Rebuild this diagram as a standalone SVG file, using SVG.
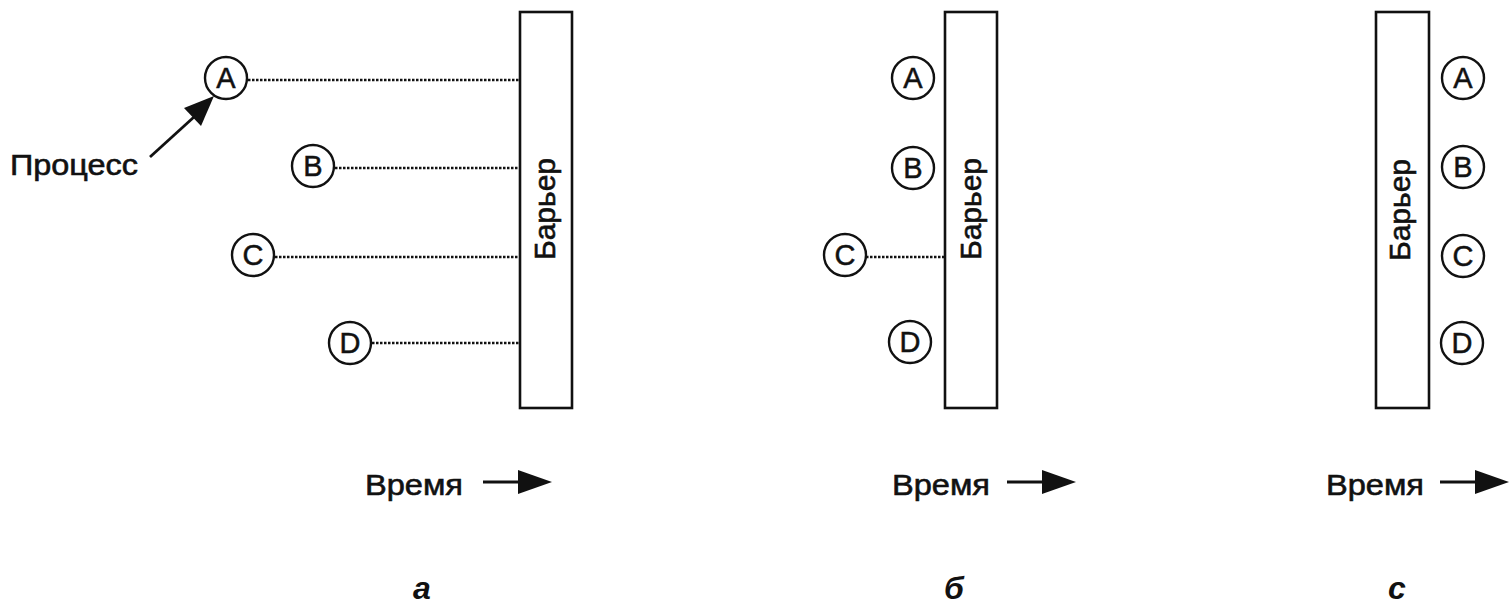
<svg xmlns="http://www.w3.org/2000/svg" width="1509" height="603" viewBox="0 0 1509 603">
<defs>
<style>
.bar{fill:#fff;stroke:#111;stroke-width:2.6}
.pc{fill:#fff;stroke:#111;stroke-width:2.4}
.lt{font-family:"Liberation Sans",Arial,sans-serif;font-size:29px;fill:#111;stroke:#111;stroke-width:0.5;text-anchor:middle}
.tx{font-family:"Liberation Sans",Arial,sans-serif;font-size:30px;fill:#111;stroke:#111;stroke-width:0.6}
.bt{font-family:"Liberation Sans",Arial,sans-serif;font-size:30px;fill:#111;stroke:#111;stroke-width:0.6;text-anchor:middle}
.cap{font-family:"Liberation Sans",Arial,sans-serif;font-size:32px;font-weight:bold;font-style:italic;fill:#111}
.dot{stroke:#111;stroke-width:2.6;stroke-dasharray:2.5 1.5;fill:none}
</style>
</defs>
<rect width="1509" height="603" fill="#fff"/>

<g id="connectors">
<line class="dot" x1="248" y1="80" x2="520" y2="80"/>
<line class="dot" x1="335" y1="168" x2="520" y2="168"/>
<line class="dot" x1="275" y1="257" x2="520" y2="257"/>
<line class="dot" x1="372" y1="343" x2="520" y2="343"/>
<line class="dot" x1="866" y1="257" x2="945" y2="257"/>
<line x1="150" y1="157" x2="194" y2="117" stroke="#111" stroke-width="2.8"/>
<polygon points="214,96 184,108 201,126" fill="#111"/>
<line x1="483" y1="482" x2="522" y2="482" stroke="#111" stroke-width="2.8"/>
<polygon points="552,482 518,470 518,494" fill="#111"/>
<line x1="1007" y1="482" x2="1046" y2="482" stroke="#111" stroke-width="2.8"/>
<polygon points="1076,482 1042,470 1042,494" fill="#111"/>
<line x1="1440" y1="482" x2="1479" y2="482" stroke="#111" stroke-width="2.8"/>
<polygon points="1509,482 1475,470 1475,494" fill="#111"/>
</g>

<g id="panel-a">
<g id="barrier-a"><rect class="bar" x="520" y="12" width="52" height="396"/>
<text class="bt" transform="translate(555,209) rotate(-90)">Барьер</text></g>
<g id="a-A"><circle class="pc" cx="226" cy="78" r="21"/><text class="lt" x="226" y="88">A</text></g>
<g id="a-B"><circle class="pc" cx="313" cy="166" r="21"/><text class="lt" x="313" y="176">B</text></g>
<g id="a-C"><circle class="pc" cx="253" cy="255" r="21"/><text class="lt" x="253" y="265">C</text></g>
<g id="a-D"><circle class="pc" cx="350" cy="343" r="21"/><text class="lt" x="350" y="353">D</text></g>
<g id="process-label"><text class="tx" x="10" y="175" textLength="128" lengthAdjust="spacingAndGlyphs">Процесс</text></g>
<g id="time-a"><text class="tx" x="365" y="495" textLength="98" lengthAdjust="spacingAndGlyphs">Время</text></g>
<text class="cap" x="413" y="599">а</text>
</g>

<g id="panel-b">
<g id="barrier-b"><rect class="bar" x="945" y="12" width="52" height="396"/>
<text class="bt" transform="translate(981,209) rotate(-90)">Барьер</text></g>
<g id="b-A"><circle class="pc" cx="913" cy="78" r="21"/><text class="lt" x="913" y="88">A</text></g>
<g id="b-B"><circle class="pc" cx="913" cy="168" r="21"/><text class="lt" x="913" y="178">B</text></g>
<g id="b-C"><circle class="pc" cx="845" cy="255" r="21"/><text class="lt" x="845" y="265">C</text></g>
<g id="b-D"><circle class="pc" cx="910" cy="342" r="21"/><text class="lt" x="910" y="352">D</text></g>
<g id="time-b"><text class="tx" x="892" y="495" textLength="98" lengthAdjust="spacingAndGlyphs">Время</text></g>
<text class="cap" x="944" y="599">б</text>
</g>

<g id="panel-c">
<g id="barrier-c"><rect class="bar" x="1376" y="12" width="53" height="396"/>
<text class="bt" transform="translate(1410,210) rotate(-90)">Барьер</text></g>
<g id="c-A"><circle class="pc" cx="1463" cy="78" r="21"/><text class="lt" x="1463" y="88">A</text></g>
<g id="c-B"><circle class="pc" cx="1463" cy="167" r="21"/><text class="lt" x="1463" y="177">B</text></g>
<g id="c-C"><circle class="pc" cx="1463" cy="256" r="21"/><text class="lt" x="1463" y="266">C</text></g>
<g id="c-D"><circle class="pc" cx="1462" cy="343" r="21"/><text class="lt" x="1462" y="353">D</text></g>
<g id="time-c"><text class="tx" x="1326" y="495" textLength="98" lengthAdjust="spacingAndGlyphs">Время</text></g>
<text class="cap" x="1388" y="599">с</text>
</g>
</svg>
